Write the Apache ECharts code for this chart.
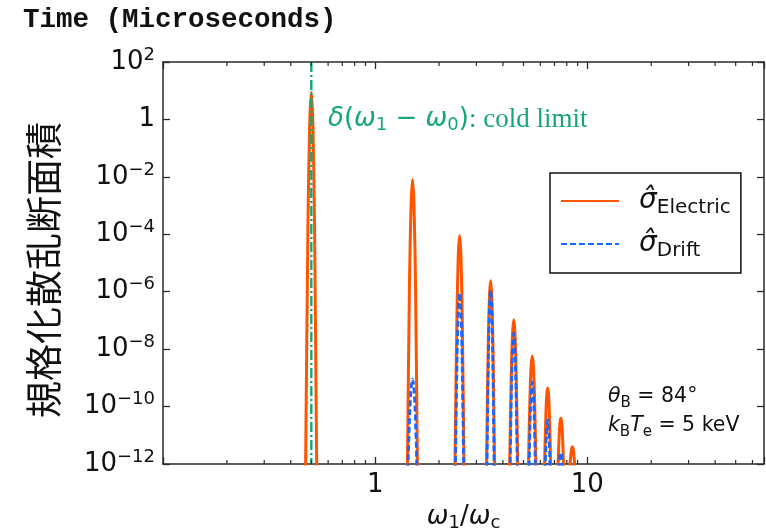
<!DOCTYPE html>
<html>
<head>
<meta charset="utf-8">
<script src="https://cdn.jsdelivr.net/npm/echarts@6/dist/echarts.min.js"></script>
<style>
html,body{margin:0;padding:0;background:#fff;}
#chart{width:766px;height:528px;}
</style>
</head>
<body>
<div id="chart"></div>
<script>
// ---- data ----
const xRange = [0.1, 68];
const yRange = [1e-12, 1e2];
const xTickValues = [1, 10];
const xTickLabels = ['1', '10'];
const xMinorTicks = [0.2,0.3,0.4,0.5,0.6,0.7,0.8,0.9, 2,3,4,5,6,7,8,9, 20,30,40,50,60];

const electricX = [
 0.464, 0.470, 0.482, 0.491, 0.5, 0.509, 0.518, 0.530, 0.536,
 1.403, 1.419, 1.451, 1.476, 1.5, 1.524, 1.549, 1.581, 1.597,
 2.354, 2.378, 2.427, 2.463, 2.5, 2.537, 2.573, 2.622, 2.646,
 3.318, 3.348, 3.409, 3.454, 3.5, 3.546, 3.591, 3.652, 3.682,
 4.266, 4.305, 4.383, 4.442, 4.5, 4.558, 4.617, 4.695, 4.734,
 5.235, 5.279, 5.367, 5.434, 5.5, 5.566, 5.633, 5.721, 5.765,
 6.246, 6.288, 6.373, 6.436, 6.5, 6.564, 6.627, 6.712, 6.754,
 7.236, 7.280, 7.368, 7.434, 7.5, 7.566, 7.632, 7.720, 7.764,
 8.256, 8.297, 8.378, 8.439, 8.5, 8.561, 8.622, 8.703, 8.744
];
const electricY = [
 1e-15, 1e-12, 1.9e-4, 0.61, 8.9, 0.61, 1.9e-4, 1e-12, 1e-15,
 1e-15, 1e-12, 2.2e-6, 1.0e-3, 8.1e-3, 1.0e-3, 2.2e-6, 1e-12, 1e-15,
 1e-15, 1e-12, 1.2e-7, 1.7e-5, 8.9e-5, 1.7e-5, 1.2e-7, 1e-12, 1e-15,
 1e-15, 1e-12, 1.2e-8, 6.4e-7, 2.4e-6, 6.4e-7, 1.2e-8, 1e-12, 1e-15,
 1e-15, 1e-12, 1.6e-9, 3.7e-8, 1.05e-7, 3.7e-8, 1.6e-9, 1e-12, 1e-15,
 1e-15, 1e-12, 2.5e-10, 2.6e-9, 5.8e-9, 2.6e-9, 2.5e-10, 1e-12, 1e-15,
 1e-15, 1e-12, 4.9e-11, 2.5e-10, 4.4e-10, 2.5e-10, 4.9e-11, 1e-12, 1e-15,
 1e-15, 1e-12, 1.0e-11, 2.8e-11, 3.9e-11, 2.8e-11, 1.0e-11, 1e-12, 1e-15,
 1e-15, 1e-12, 2.4e-12, 3.5e-12, 4.0e-12, 3.5e-12, 2.4e-12, 1e-12, 1e-15
];
const driftX = [
 1.416, 1.430, 1.458, 1.479, 1.5, 1.521, 1.542, 1.570, 1.584,
 2.368, 2.390, 2.434, 2.467, 2.5, 2.533, 2.566, 2.610, 2.632,
 3.340, 3.367, 3.420, 3.460, 3.5, 3.540, 3.580, 3.633, 3.660,
 4.296, 4.330, 4.398, 4.449, 4.5, 4.551, 4.602, 4.670, 4.704,
 5.284, 5.320, 5.392, 5.446, 5.5, 5.554, 5.608, 5.680, 5.716,
 6.308, 6.340, 6.404, 6.452, 6.5, 6.548, 6.596, 6.660, 6.692,
 7.356, 7.380, 7.428, 7.464, 7.5, 7.536, 7.572, 7.620, 7.644
];
const driftY = [
 1e-15, 1e-12, 7.8e-11, 4.9e-10, 9.1e-10, 4.9e-10, 7.8e-11, 1e-12, 1e-15,
 1e-15, 1e-12, 6.5e-9, 2.7e-7, 9.1e-7, 2.7e-7, 6.5e-9, 1e-12, 1e-15,
 1e-15, 1e-12, 7.6e-9, 3.3e-7, 1.15e-6, 3.3e-7, 7.6e-9, 1e-12, 1e-15,
 1e-15, 1e-12, 8.3e-10, 1.4e-8, 3.6e-8, 1.4e-8, 8.3e-10, 1e-12, 1e-15,
 1e-15, 1e-12, 6.7e-11, 3.9e-10, 7.1e-10, 3.9e-10, 6.7e-11, 1e-12, 1e-15,
 1e-15, 1e-12, 9.5e-12, 2.5e-11, 3.4e-11, 2.5e-11, 9.5e-12, 1e-12, 1e-15,
 1e-15, 1e-12, 1.8e-12, 2.3e-12, 2.5e-12, 2.3e-12, 1.8e-12, 1e-12, 1e-15
];
const coldLimitX = 0.5;

// ---- styling ----
const ORANGE = '#ff5500';
const BLUE = '#1a66ff';
const GREEN = '#14a67a';
const AXIS = '#2a2a2a';
const SANS = 'DejaVu Sans';

const chart = echarts.init(document.getElementById('chart'), null, {renderer: 'canvas'});

function yLabel(v) {
  const e = v > 0 ? Math.round(Math.log10(v)) : -12;
  if (e === 0) return '{b|1}';
  return '{b|10}{p|' + (e < 0 ? '\u2212' : '') + Math.abs(e) + '}';
}
function xLabel(v) {
  for (let i = 0; i < xTickValues.length; i++) {
    if (Math.abs(v - xTickValues[i]) < 1e-9 * xTickValues[i]) return xTickLabels[i];
  }
  return '';
}

const axisLine = {show: true, onZero: false, lineStyle: {color: AXIS, width: 1.5}};
const axisTick = {show: true, inside: true, length: 7, lineStyle: {color: AXIS, width: 1.3}};

const option = {
  animation: false,
  backgroundColor: '#fff',
  grid: {left: 163, right: 2, top: 62, bottom: 64, containLabel: false, outerBoundsMode: 'none'},
  xAxis: [
    {
      type: 'log', logBase: 10, min: xRange[0], max: xRange[1], position: 'bottom',
      axisLine, axisTick,
      splitLine: {show: false},
      axisLabel: {formatter: xLabel, fontFamily: SANS, fontSize: 26, color: '#111', margin: 8,
                  showMinLabel: true, showMaxLabel: true},
      name: '{w|\u03c9}{s|1}{n|/}{w|\u03c9}{s|c}',
      nameLocation: 'middle', nameGap: 38,
      nameTextStyle: {
        color: '#111',
        rich: {
          w: {fontFamily: SANS, fontStyle: 'italic', fontSize: 26, lineHeight: 30, color: '#111'},
          n: {fontFamily: SANS, fontSize: 26, lineHeight: 30, color: '#111'},
          s: {fontFamily: SANS, fontSize: 18, lineHeight: 18, verticalAlign: 'bottom', color: '#111'}
        }
      }
    },
    {
      type: 'log', logBase: 10, min: xRange[0], max: xRange[1], position: 'top',
      axisLine, axisTick, splitLine: {show: false}, axisLabel: {show: false}
    }
  ],
  yAxis: [
    {
      type: 'log', logBase: 10, min: yRange[0], max: yRange[1], interval: 2, position: 'left',
      axisLine, axisTick, splitLine: {show: false},
      axisLabel: {
        formatter: yLabel, margin: 8, color: '#111',
        rich: {
          b: {fontFamily: SANS, fontSize: 26, lineHeight: 32, color: '#111'},
          p: {fontFamily: SANS, fontSize: 18, lineHeight: 18, verticalAlign: 'top', color: '#111'}
        }
      },
      name: '規格化散乱断面積',
      nameLocation: 'middle', nameGap: 101, nameRotate: 90,
      nameTextStyle: {fontFamily: 'Noto Sans CJK JP', fontSize: 37, color: '#111', padding: [0, 14, 0, 0]}
    },
    {
      type: 'log', logBase: 10, min: yRange[0], max: yRange[1], interval: 2, position: 'right',
      axisLine, axisTick, splitLine: {show: false}, axisLabel: {show: false}
    }
  ],
  legend: {
    data: ['Electric', 'Drift'],
    orient: 'vertical',
    left: 550, top: 173,
    padding: [14, 10, 12, 10],
    itemGap: 12,
    itemWidth: 58, itemHeight: 14,
    itemStyle: {color: 'rgba(0,0,0,0)', borderWidth: 0, opacity: 0},
    borderColor: '#111', borderWidth: 1.5, borderRadius: 0,
    backgroundColor: '#fff',
    formatter: function (name) { return '{s|\u03c3\u0302}{sub|' + name + '}'; },
    textStyle: {
      color: '#111',
      rich: {
        s: {fontFamily: SANS, fontStyle: 'italic', fontSize: 28, lineHeight: 34, padding: [0, 0, 0, 15], color: '#111'},
        sub: {fontFamily: SANS, fontSize: 20, lineHeight: 20, verticalAlign: 'bottom', color: '#111'}
      }
    }
  },
  series: [
    {
      name: 'Electric', type: 'line', symbol: 'none', smooth: 0.25, clip: true, z: 2,
      data: electricX.map((x, i) => [x, electricY[i]]),
      lineStyle: {color: ORANGE, width: 3},
      itemStyle: {color: ORANGE}
    },
    {
      name: 'Drift', type: 'line', symbol: 'none', smooth: 0.25, clip: true, z: 3,
      data: driftX.map((x, i) => [x, driftY[i]]),
      lineStyle: {color: BLUE, width: 2.8, type: [6, 3]},
      itemStyle: {color: BLUE}
    },
    {
      name: 'cold', type: 'line', symbol: 'none', clip: true, z: 4,
      data: [[coldLimitX, yRange[1]], [coldLimitX, yRange[0]]],
      lineStyle: {color: GREEN, width: 2.4, type: [10, 3, 2, 3]},
      itemStyle: {color: GREEN}
    },
    {
      name: 'minorTicks', type: 'custom', z: 5, silent: true,
      data: xMinorTicks.map(v => [v, 1]),
      renderItem: function (params, api) {
        const x = api.value(0);
        const pb = api.coord([x, yRange[0]]);
        const pt = api.coord([x, yRange[1]]);
        const st = {stroke: AXIS, lineWidth: 1.2};
        return {type: 'group', children: [
          {type: 'line', shape: {x1: pb[0], y1: pb[1], x2: pb[0], y2: pb[1] - 4}, style: st},
          {type: 'line', shape: {x1: pt[0], y1: pt[1], x2: pt[0], y2: pt[1] + 4}, style: st}
        ]};
      }
    }
  ],
  graphic: [
    {
      type: 'text', left: 23, top: 6,
      style: {text: 'Time (Microseconds)', fontFamily: 'Liberation Mono', fontWeight: 'bold', fontSize: 27.5, fill: '#111'}
    },
    {
      type: 'text', left: 328, top: 106,
      style: {
        text: '{i|\u03b4}{u|(}{i|\u03c9}{s|1}{u| \u2212 }{i|\u03c9}{s|0}{u|)}{r|: cold limit}',
        rich: {
          i: {fontFamily: SANS, fontStyle: 'italic', fontSize: 26, lineHeight: 30, fill: GREEN},
          u: {fontFamily: SANS, fontSize: 26, lineHeight: 30, fill: GREEN},
          s: {fontFamily: SANS, fontSize: 18, lineHeight: 18, verticalAlign: 'bottom', fill: GREEN},
          r: {fontFamily: 'Liberation Serif', fontSize: 27, lineHeight: 30, fill: GREEN}
        }
      }
    },
    {
      type: 'text', left: 608, top: 386,
      style: {
        text: '{i|\u03b8}{s|B}{u| = 84\u00b0}\n{i|k}{s|B}{i|T}{s|e}{u| = 5 keV}',
        rich: {
          i: {fontFamily: SANS, fontStyle: 'italic', fontSize: 20.5, lineHeight: 29, fill: '#111'},
          u: {fontFamily: SANS, fontSize: 20.5, lineHeight: 29, fill: '#111'},
          s: {fontFamily: SANS, fontSize: 15, lineHeight: 15, verticalAlign: 'bottom', fill: '#111'}
        }
      }
    }
  ]
};
chart.setOption(option);
</script>
</body>
</html>
